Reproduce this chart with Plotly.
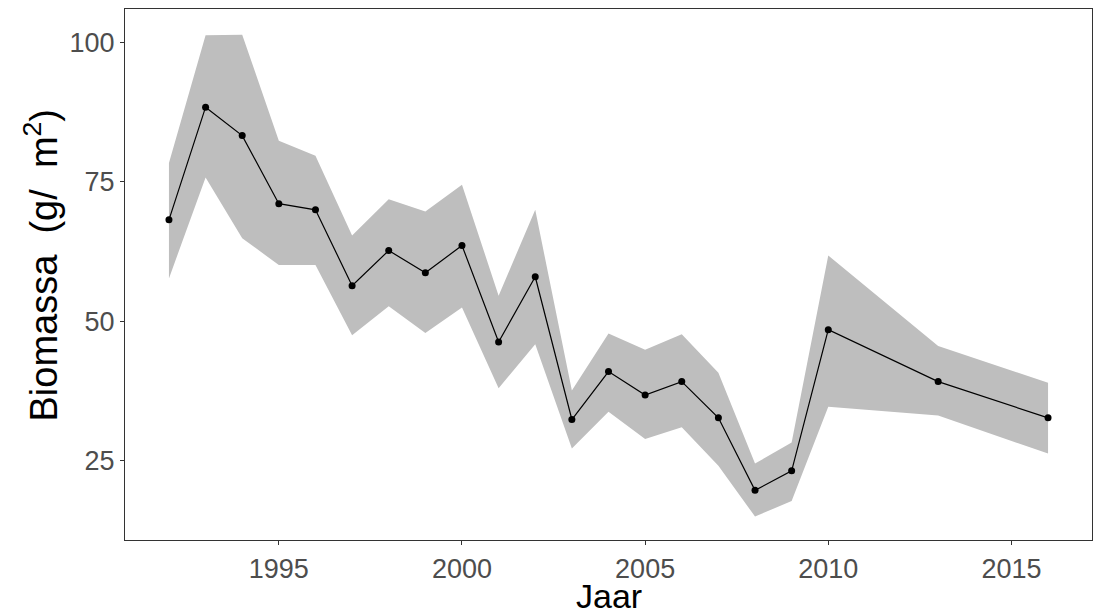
import plotly.graph_objects as go

years = [1992, 1993, 1994, 1995, 1996, 1997, 1998, 1999, 2000, 2001, 2002,
         2003, 2004, 2005, 2006, 2007, 2008, 2009, 2010, 2013, 2016]
biomass = [68.2, 88.4, 83.3, 71.1, 70.0, 56.4, 62.7, 58.7, 63.6, 46.3, 58.0,
           32.4, 41.0, 36.8, 39.2, 32.7, 19.7, 23.2, 48.5, 39.2, 32.7]
upper = [78.4, 101.3, 101.4, 82.4, 79.7, 65.4, 71.9, 69.7, 74.5, 54.6, 70.0,
         37.6, 47.8, 44.9, 47.7, 40.8, 24.5, 28.3, 61.8, 45.6, 39.0]
lower = [57.7, 75.8, 64.9, 60.1, 60.1, 47.5, 52.7, 47.9, 52.5, 38.0, 45.9,
         27.2, 33.8, 28.9, 31.0, 24.1, 15.0, 17.8, 34.7, 33.1, 26.3]
x_ticks = [1995, 2000, 2005, 2010, 2015]
y_ticks = [25, 50, 75, 100]

FONT = "Liberation Sans, Arial, sans-serif"

fig = go.Figure()
fig.add_trace(go.Scatter(x=years + years[::-1], y=upper + lower[::-1],
                         fill="toself", fillcolor="#BEBEBE",
                         line=dict(width=0), mode="lines",
                         hoverinfo="skip", showlegend=False))
fig.add_trace(go.Scatter(x=years, y=biomass, mode="lines+markers",
                         line=dict(color="black", width=1.2),
                         marker=dict(color="black", size=7),
                         showlegend=False))

axis_common = dict(showgrid=False, zeroline=False, showline=True, mirror=True,
                   linecolor="#333333", linewidth=1.3, ticks="outside",
                   ticklen=4, tickwidth=1, tickcolor="#333333",
                   tickfont=dict(family=FONT, size=27, color="#4D4D4D"))

fig.update_xaxes(range=[1990.8, 2017.2], tickvals=x_ticks, **axis_common)
fig.update_yaxes(range=[10.8, 106.0], tickvals=y_ticks, **axis_common)

fig.add_annotation(text="Jaar", xref="paper", yref="paper", x=0.5, y=0,
                   xanchor="center", yanchor="top", yshift=-35, showarrow=False,
                   font=dict(family=FONT, size=34, color="black"))
fig.add_annotation(text="Biomassa  (g/  m<sup>2</sup>)", xref="paper", yref="paper",
                   x=0, y=0.5, xanchor="center", yanchor="middle", xshift=-84,
                   yshift=9, textangle=-90, showarrow=False,
                   font=dict(family=FONT, size=38, color="black"))

fig.update_layout(width=1093, height=613, plot_bgcolor="white",
                  paper_bgcolor="white",
                  margin=dict(l=125, r=1, t=9, b=73))

fig.write_html("out.html", config={"displayModeBar": False},
               post_script="document.body.style.margin='0';document.body.style.overflow='hidden';")
